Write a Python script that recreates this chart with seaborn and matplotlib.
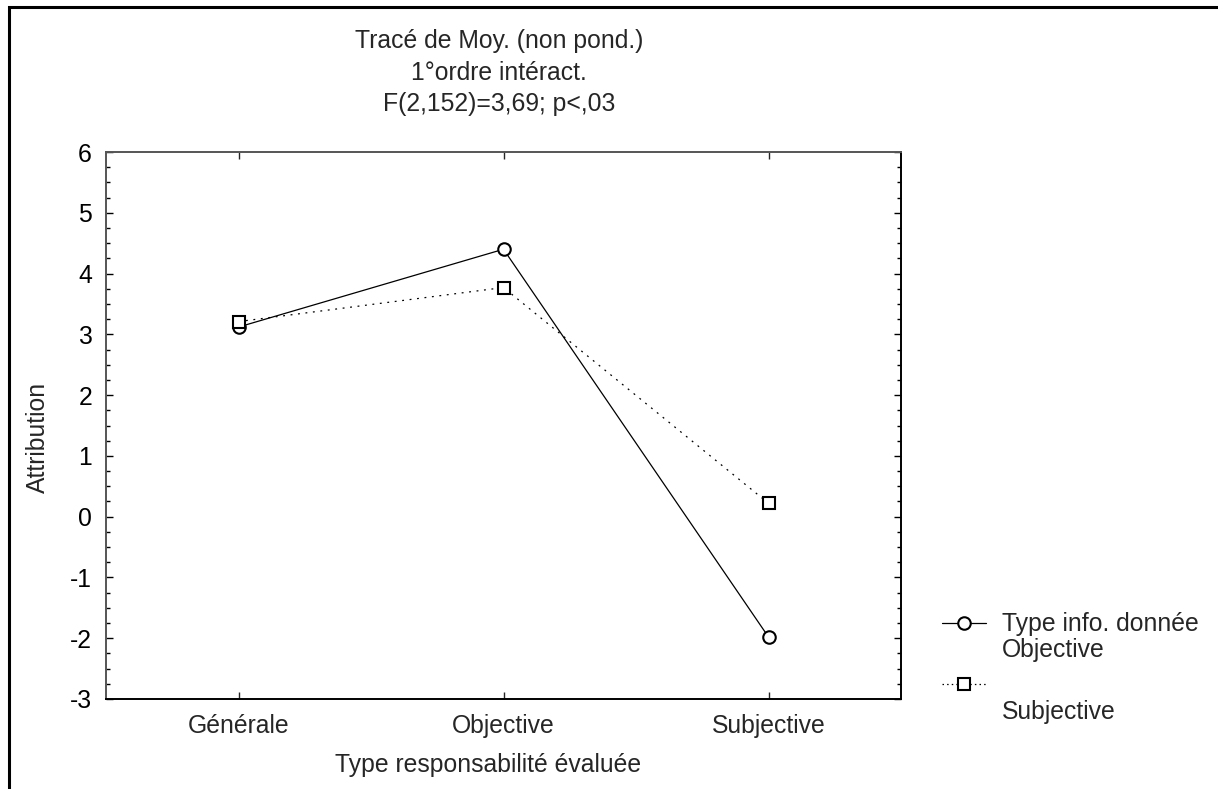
import pandas as pd
import matplotlib
matplotlib.use("Agg")
import matplotlib.pyplot as plt
from matplotlib.lines import Line2D
from matplotlib.patches import Rectangle
from matplotlib.ticker import MultipleLocator
import seaborn as sns

# data
categories = ["Générale", "Objective", "Subjective"]
info_types = ["Objective", "Subjective"]
means_objective = [3.12, 4.40, -1.98]
means_subjective = [3.21, 3.77, 0.22]

title_lines = ["Tracé de Moy. (non pond.)", "1°ordre intéract.", "F(2,152)=3,69; p<,03"]
x_label = "Type responsabilité évaluée"
y_label = "Attribution"

rows = []
for info, vals in zip(info_types, [means_objective, means_subjective]):
    for cat, v in zip(categories, vals):
        rows.append({"resp": cat, "info": info, "attribution": v})
df = pd.DataFrame(rows)

sns.set_style("white")
plt.rcParams["font.family"] = ["Liberation Sans", "DejaVu Sans"]
FS = 17.8

W, H = 1218, 789
fig = plt.figure(figsize=(W / 100, H / 100), dpi=100)
ax = fig.add_axes([106 / W, (H - 699) / H, 795 / W, 547 / H])

sns.lineplot(data=df, x="resp", y="attribution", hue="info", style="info",
             hue_order=info_types, style_order=info_types,
             palette=["black", "black"],
             markers={"Objective": "o", "Subjective": "s"},
             dashes={"Objective": "", "Subjective": (1.5, 4.5)},
             markersize=9, markerfacecolor="white", markeredgecolor="black",
             markeredgewidth=1.5, linewidth=0.9, legend=False, ax=ax, sort=False)

ax.set_xlim(-0.5, 2.5)
ax.set_ylim(-3, 6)
ax.yaxis.set_major_locator(MultipleLocator(1))
ax.yaxis.set_minor_locator(MultipleLocator(0.25))
ax.tick_params(axis="y", which="both", direction="in", left=True, right=True,
               labelsize=FS, pad=10, colors="black")
ax.tick_params(axis="y", which="major", length=5, width=1)
ax.tick_params(axis="y", which="minor", length=3, width=1)
ax.tick_params(axis="x", direction="in", bottom=True, top=True, length=5,
               width=1, labelsize=FS, pad=11)
ax.set_yticklabels([f"{int(t)}" for t in ax.get_yticks()])
ax.set_xlabel("")
ax.set_ylabel("")
for side, col in [("top", "#555555"), ("left", "#555555"),
                  ("bottom", "black"), ("right", "black")]:
    ax.spines[side].set_visible(True)
    ax.spines[side].set_color(col)
    ax.spines[side].set_linewidth(1.4)


def fy(y):
    return 1 - y / H


# titles and axis labels
for y, line in zip([41, 73, 104], title_lines):
    fig.text(499 / W, fy(y), line, ha="center", va="center", fontsize=FS)
fig.text(488 / W, fy(765), x_label, ha="center", va="center", fontsize=FS)
fig.text(38 / W, fy(437), y_label, ha="center", va="center",
         rotation=90, fontsize=FS)

# legend drawn by hand to keep its two-line layout
fig.add_artist(Line2D([942 / W, 986 / W], [fy(623)] * 2, color="black", lw=0.9))
fig.add_artist(Line2D([964 / W], [fy(623)], marker="o", ms=9, mfc="white",
                      mec="black", mew=1.5, ls=""))
fig.add_artist(Line2D([942 / W, 986 / W], [fy(684)] * 2, color="black", lw=0.9,
                      dashes=(1.2, 2.5)))
fig.add_artist(Line2D([964 / W], [fy(684)], marker="s", ms=9, mfc="white",
                      mec="black", mew=1.5, ls=""))
fig.text(1002 / W, fy(624), "Type info. donnée", ha="left", va="center", fontsize=FS)
fig.text(1002 / W, fy(650), info_types[0], ha="left", va="center", fontsize=FS)
fig.text(1002 / W, fy(712), info_types[1], ha="left", va="center", fontsize=FS)

# outer frame, cut off at right and bottom
fig.add_artist(Rectangle((9 / W, -0.2), 1.3, 1.2 - 7 / H, transform=fig.transFigure,
                         fill=False, edgecolor="black", linewidth=2.2, clip_on=False))

fig.savefig("out.png", dpi=100)
